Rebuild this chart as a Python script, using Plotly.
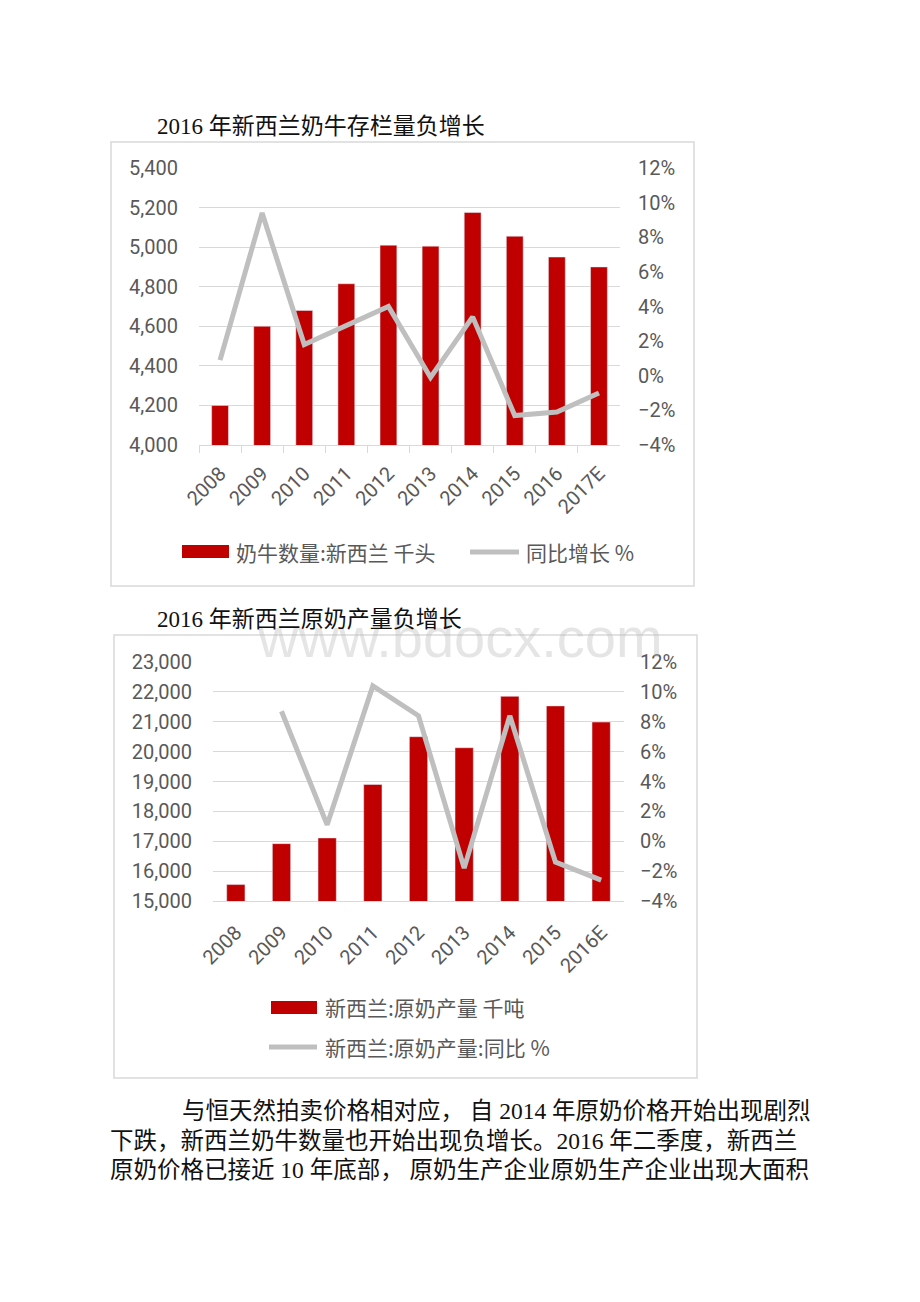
import plotly.graph_objects as go

W, H = 920, 1302

# ---------------- data ----------------
years1 = ["2008", "2009", "2010", "2011", "2012", "2013", "2014", "2015", "2016", "2017E"]
cows = [4200, 4600, 4680, 4815, 5010, 5005, 5175, 5055, 4950, 4900]
cows_yoy = [0.9, 9.4, 1.8, 2.9, 4.0, -0.1, 3.4, -2.3, -2.1, -1.0]

years2 = ["2008", "2009", "2010", "2011", "2012", "2013", "2014", "2015", "2016E"]
milk = [15550, 16920, 17110, 18900, 20500, 20130, 21850, 21530, 20990]
milk_yoy = [None, 8.7, 1.1, 10.4, 8.4, -1.8, 8.4, -1.4, -2.6]

title1 = "2016 年新西兰奶牛存栏量负增长"
title2 = "2016 年新西兰原奶产量负增长"
legend1 = ["奶牛数量:新西兰 千头", "同比增长 %"]
legend2 = ["新西兰:原奶产量 千吨", "新西兰:原奶产量:同比 %"]
para = [
    "与恒天然拍卖价格相对应， 自 2014 年原奶价格开始出现剧烈",
    "下跌，新西兰奶牛数量也开始出现负增长。2016 年二季度，新西兰",
    "原奶价格已接近 10 年底部， 原奶生产企业原奶生产企业出现大面积",
]
watermark = "www.bdocx.com"

RED = "#C00000"
GREY = "#BFBFBF"
GRID = "#D9D9D9"
TXT = "#595959"
CHART_FONT = "Roboto, Open Sans, Noto Sans CJK SC, sans-serif"
CJK_FONT = "Noto Sans CJK SC, sans-serif"
DOC_FONT = "Liberation Serif, Noto Sans CJK SC, serif"


def px(x):
    return x / W


def py(y):
    return 1 - y / H


fig = go.Figure()

fig.add_trace(go.Bar(x=years1, y=cows, marker_color=RED, xaxis="x", yaxis="y",
                     showlegend=False))
fig.add_trace(go.Scatter(x=years1, y=cows_yoy, mode="lines", xaxis="x", yaxis="y2",
                         line=dict(color=GREY, width=5), showlegend=False))
fig.add_trace(go.Bar(x=years2, y=milk, marker_color=RED, xaxis="x2", yaxis="y3",
                     showlegend=False))
fig.add_trace(go.Scatter(x=years2, y=milk_yoy, mode="lines", xaxis="x2", yaxis="y4",
                         line=dict(color=GREY, width=5), showlegend=False,
                         connectgaps=False))

tickfont = dict(family=CHART_FONT, size=20, color=TXT)
xtickfont = dict(family=CHART_FONT, size=20, color=TXT)

common_x = dict(type="category", tickangle=-45, showgrid=False, showline=True,
                linecolor=GRID, linewidth=1, tickfont=xtickfont, zeroline=False,
                automargin=False)

fig.update_layout(
    width=W, height=H,
    margin=dict(l=0, r=0, t=0, b=0, pad=0, autoexpand=False),
    paper_bgcolor="white", plot_bgcolor="white",
    bargap=0.6,
    xaxis=dict(domain=[px(199), px(620)], anchor="y", ticks="outside",
               tickson="boundaries", ticklen=7, tickcolor=GRID,
               ticklabelstandoff=8, **common_x),
    yaxis=dict(domain=[py(445), py(168)], anchor="x", range=[4000, 5400], dtick=200,
               tickformat=",", gridcolor=GRID, zeroline=False, showline=False,
               tickfont=tickfont, ticklabelstandoff=20, automargin=False),
    yaxis2=dict(overlaying="y", side="right", anchor="x", range=[-4, 12], dtick=2,
                ticksuffix="%", showgrid=False, zeroline=False, showline=False,
                tickfont=tickfont, ticklabelstandoff=17, automargin=False),
    xaxis2=dict(domain=[px(213), px(624)], anchor="y3", ticks="",
                ticklabelstandoff=11, **common_x),
    yaxis3=dict(domain=[py(901), py(662)], anchor="x2", range=[15000, 23000], dtick=1000,
                tickformat=",", gridcolor=GRID, zeroline=False, showline=False,
                tickfont=tickfont, ticklabelstandoff=20, automargin=False),
    yaxis4=dict(overlaying="y3", side="right", anchor="x2", range=[-4, 12], dtick=2,
                ticksuffix="%", showgrid=False, zeroline=False, showline=False,
                tickfont=tickfont, ticklabelstandoff=15, automargin=False),
)

shapes = []
annotations = []

# watermark (drawn first, very light)
annotations.append(dict(text=watermark, x=px(460), y=py(637), xref="paper", yref="paper",
                        showarrow=False, font=dict(family="Liberation Sans, sans-serif",
                                                   size=56, color="rgba(190,190,190,0.4)")))

# chart frames
shapes.append(dict(type="rect", xref="paper", yref="paper", x0=px(111), x1=px(694),
                   y0=py(586), y1=py(142), line=dict(color=GRID, width=1.5), layer="below"))
shapes.append(dict(type="rect", xref="paper", yref="paper", x0=px(114), x1=px(697),
                   y0=py(1078), y1=py(635), line=dict(color=GRID, width=1.5), layer="below"))

# titles
for t, yy in [(title1, 126), (title2, 619)]:
    annotations.append(dict(text=t, x=px(155), y=py(yy), xref="paper", yref="paper",
                            xanchor="left", yanchor="middle", showarrow=False,
                            font=dict(family=DOC_FONT, size=23, color="#111111")))

# legend 1 (manual)
shapes.append(dict(type="rect", xref="paper", yref="paper", x0=px(182), x1=px(229),
                   y0=py(558), y1=py(545), fillcolor=RED, line=dict(width=0)))
annotations.append(dict(text=legend1[0], x=px(234), y=py(552), xref="paper", yref="paper",
                        xanchor="left", yanchor="middle", showarrow=False,
                        font=dict(family=CJK_FONT, size=21, color=TXT)))
shapes.append(dict(type="line", xref="paper", yref="paper", x0=px(470), x1=px(519),
                   y0=py(552), y1=py(552), line=dict(color=GREY, width=5)))
annotations.append(dict(text=legend1[1], x=px(524), y=py(552), xref="paper", yref="paper",
                        xanchor="left", yanchor="middle", showarrow=False,
                        font=dict(family=CJK_FONT, size=21, color=TXT)))

# legend 2 (manual)
shapes.append(dict(type="rect", xref="paper", yref="paper", x0=px(271), x1=px(317),
                   y0=py(1014), y1=py(1001), fillcolor=RED, line=dict(width=0)))
annotations.append(dict(text=legend2[0], x=px(323), y=py(1007), xref="paper", yref="paper",
                        xanchor="left", yanchor="middle", showarrow=False,
                        font=dict(family=CJK_FONT, size=21, color=TXT)))
shapes.append(dict(type="line", xref="paper", yref="paper", x0=px(269), x1=px(317),
                   y0=py(1047), y1=py(1047), line=dict(color=GREY, width=5)))
annotations.append(dict(text=legend2[1], x=px(323), y=py(1047), xref="paper", yref="paper",
                        xanchor="left", yanchor="middle", showarrow=False,
                        font=dict(family=CJK_FONT, size=21, color=TXT)))

# paragraph
for line, xx, yy in zip(para, [180, 108, 108], [1111, 1141, 1170]):
    annotations.append(dict(text=line, x=px(xx), y=py(yy), xref="paper", yref="paper",
                            xanchor="left", yanchor="middle", showarrow=False,
                            font=dict(family=DOC_FONT, size=23.5, color="#111111")))

fig.update_layout(shapes=shapes, annotations=annotations)

fig.write_html("out.html")
